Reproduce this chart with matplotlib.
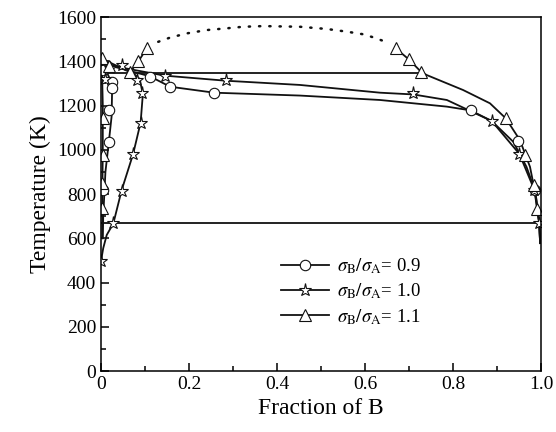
import matplotlib
matplotlib.use('Agg')
import matplotlib.pyplot as plt
from matplotlib.lines import Line2D
from matplotlib.ticker import MultipleLocator

plt.rcParams['font.family'] = ['Liberation Serif', 'DejaVu Serif']
plt.rcParams['mathtext.fontset'] = 'stix'

# sigma_B/sigma_A = 0.9 (circles)
circ_line_x = [0.004, 0.005, 0.010, 0.018, 0.024, 0.025, 0.020, 0.010, 0.000, 0.05, 0.111, 0.157,
               0.257, 0.452, 0.634, 0.786, 0.84, 0.888, 0.937, 0.967, 0.986, 0.996, 0.998]
circ_line_T = [600, 700, 900, 1040, 1150, 1250, 1320, 1365, 1390, 1365, 1332, 1285,
               1258, 1245, 1225, 1195, 1178, 1130, 1036, 923, 818, 667, 578]
circ_mk_x = [0.005, 0.024, 0.024, 0.017, 0.017, 0.005, 0.111, 0.157, 0.257, 0.84, 0.948, 0.986]
circ_mk_T = [1360, 1308, 1279, 1180, 1036, 818, 1330, 1282, 1255, 1180, 1041, 818]

# sigma_B/sigma_A = 1.0 (stars)
star_line_x = [0.0, 0.005, 0.013, 0.028, 0.047, 0.073, 0.09, 0.095, 0.088, 0.065, 0.035, 0.0,
               0.05, 0.145, 0.284, 0.452, 0.634, 0.71, 0.786, 0.888, 0.951, 0.985, 0.996, 0.998]
star_line_T = [497, 555, 615, 667, 818, 981, 1123, 1250, 1320, 1360, 1378, 1390,
               1370, 1335, 1312, 1293, 1258, 1250, 1225, 1130, 981, 818, 667, 578]
star_mk_x = [0.0, 0.028, 0.048, 0.073, 0.09, 0.094, 0.081, 0.047, 0.02, 0.008, 0.145, 0.284,
             0.71, 0.888, 0.951, 0.985, 0.996]
star_mk_T = [497, 667, 815, 981, 1123, 1255, 1315, 1383, 1368, 1320, 1333, 1315,
             1255, 1130, 981, 818, 667]

# sigma_B/sigma_A = 1.1 (triangles)
tri_left_x = [0.003, 0.003, 0.004, 0.004, 0.002, 0.0, 0.03, 0.066, 0.085, 0.104]
tri_left_T = [600, 800, 1000, 1200, 1380, 1413, 1385, 1350, 1400, 1458]
tri_right_x = [0.67, 0.70, 0.727, 0.74, 0.823, 0.884, 0.92, 0.952, 0.975, 0.99, 0.996, 0.998]
tri_right_T = [1458, 1408, 1353, 1338, 1270, 1210, 1142, 1044, 923, 773, 667, 578]
tri_mk_x = [0.002, 0.005, 0.005, 0.002, 0.002, 0.017, 0.066, 0.085, 0.104, 0.67, 0.70, 0.727,
            0.92, 0.964, 0.983, 0.992]
tri_mk_T = [1413, 1142, 976, 851, 735, 1380, 1350, 1400, 1458, 1458, 1408, 1353,
            1142, 976, 841, 731]

# dotted dome
dome_x = [0.130, 0.157, 0.195, 0.240, 0.286, 0.323, 0.369, 0.452, 0.513, 0.558, 0.596, 0.619, 0.640]
dome_T = [1488, 1507, 1526, 1541, 1549, 1556, 1559, 1556, 1546, 1534, 1522, 1508, 1493]

# horizontal lines
tie_x = [0.0, 0.727]
tie_T = [1345, 1345]
eut_x = [0.0, 1.0]
eut_T = [670, 670]

labels = [r'$\sigma_{\rm B}/\sigma_{\rm A}$= 0.9', r'$\sigma_{\rm B}/\sigma_{\rm A}$= 1.0',
          r'$\sigma_{\rm B}/\sigma_{\rm A}$= 1.1']

fig = plt.figure(figsize=(5.56, 4.32), dpi=100)
ax = fig.add_axes([0.1817, 0.1412, 0.7913, 0.8194])

lw = 1.3
ink = '#111111'
mk = dict(color=ink, mfc='white', mec=ink, mew=0.8, linestyle='none')

ax.plot(circ_line_x, circ_line_T, color=ink, lw=lw)
ax.plot(star_line_x, star_line_T, color=ink, lw=lw)
ax.plot(tri_left_x, tri_left_T, color=ink, lw=lw)
ax.plot(tri_right_x, tri_right_T, color=ink, lw=lw)
ax.plot(tie_x, tie_T, color=ink, lw=lw)
ax.plot(eut_x, eut_T, color=ink, lw=lw)
ax.plot(dome_x, dome_T, color=ink, lw=1.8, linestyle=(0, (0.5, 3.6)), dash_capstyle='round')

ax.plot(circ_mk_x, circ_mk_T, marker='o', ms=7.5, **mk)
ax.plot(star_mk_x, star_mk_T, marker='*', ms=9.5, **mk)
ax.plot(tri_mk_x, tri_mk_T, marker='^', ms=9, **mk)

handles = [Line2D([], [], color=ink, lw=lw, marker='o', ms=7.5, mfc='white', mew=0.8),
           Line2D([], [], color=ink, lw=lw, marker='*', ms=9.5, mfc='white', mew=0.8),
           Line2D([], [], color=ink, lw=lw, marker='^', ms=9, mfc='white', mew=0.8)]
ax.legend(handles, labels, loc='center left', bbox_to_anchor=(0.37, 0.225), frameon=False,
          fontsize=13.5, handlelength=2.6, handletextpad=0.4, labelspacing=0.3)

ax.set_xlim(0, 1)
ax.set_ylim(0, 1600)
ax.xaxis.set_major_locator(MultipleLocator(0.2))
ax.xaxis.set_minor_locator(MultipleLocator(0.1))
ax.yaxis.set_major_locator(MultipleLocator(200))
ax.yaxis.set_minor_locator(MultipleLocator(100))
ax.set_xticks([0, 0.2, 0.4, 0.6, 0.8, 1.0])
ax.set_xticklabels(['0', '0.2', '0.4', '0.6', '0.8', '1.0'])
ax.tick_params(which='both', direction='in', top=False, right=False, labelsize=14, width=1.1)
ax.tick_params(which='major', length=6)
ax.tick_params(which='minor', length=3.5)
for s in ax.spines.values():
    s.set_linewidth(1.1)

ax.set_xlabel('Fraction of B', fontsize=17, labelpad=4)
ax.set_ylabel('Temperature (K)', fontsize=17, labelpad=4)

fig.savefig('out.png', dpi=100)
